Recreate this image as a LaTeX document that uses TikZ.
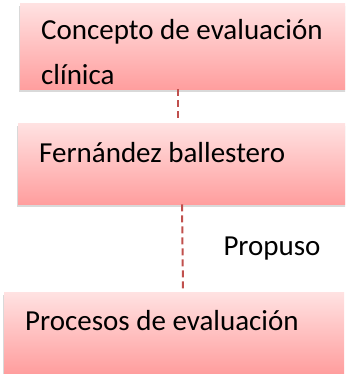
\documentclass[tikz,border=0pt]{standalone}
\usepackage{fontspec}
\setmainfont{Carlito}
\usetikzlibrary{shadows, calc, positioning}

\definecolor{rosaclaro}{RGB}{255,226,226}
\definecolor{rosa}{RGB}{255,158,158}
\definecolor{rojolinea}{RGB}{192,80,77}

\begin{document}
\begin{tikzpicture}[x=1pt, y=-1pt,
    font=\fontsize{29}{45}\selectfont,
    caja/.style={top color=rosaclaro, bottom color=rosa, draw=none,
        text width=298pt, inner xsep=21pt, inner ysep=0pt, align=flush left, anchor=north west,
        drop shadow={shadow xshift=-1pt, shadow yshift=-3pt, opacity=0.3}},
    enlace/.style={draw=rojolinea, line width=2pt, dash pattern=on 7pt off 4pt}]
    \path[use as bounding box, clip] (0,0) rectangle (345,374);
    \node[caja, text height=36pt, text depth=50pt] (concepto) at (20,3) {Concepto de evaluación\\clínica};
    \node[caja, text height=39pt, text depth=42pt] (fernandez) at (18,123) {Fernández ballestero};
    \node[caja, text height=38pt, text depth=43pt] (procesos) at (4,292) {Procesos de evaluación};
    \draw[enlace, shorten >=4pt] ($(concepto.south west)+(158,0)$) -- ($(fernandez.north west)+(160,0)$);
    \draw[enlace, shorten >=2pt] ($(fernandez.south west)+(164,0)$) --
        node[right=40pt, inner sep=0pt] (propuso) {Propuso} ($(procesos.north west)+(179,0)$);
\end{tikzpicture}
\end{document}
